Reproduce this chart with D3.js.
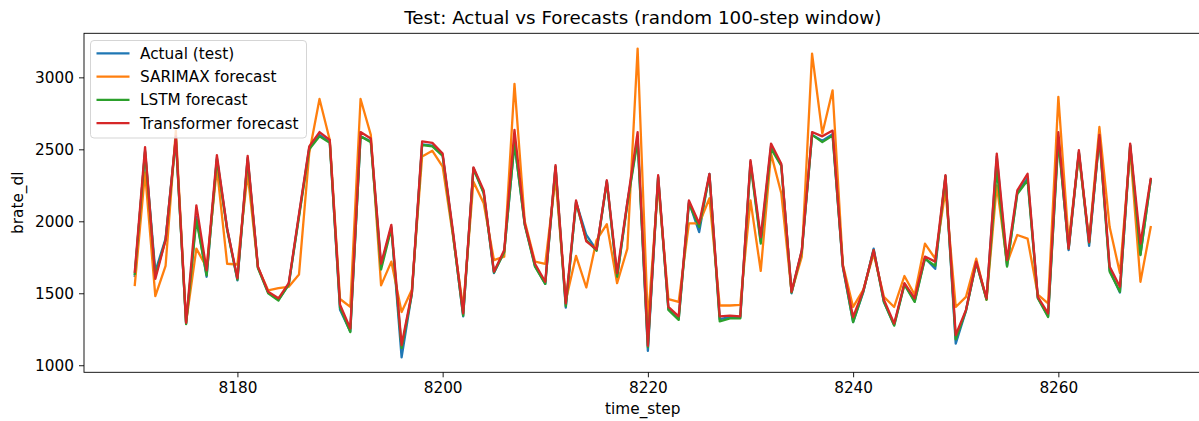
<!DOCTYPE html>
<html>
<head>
<meta charset="utf-8">
<script src="https://cdn.jsdelivr.net/npm/d3@7"></script>
<style>
  html, body { margin: 0; padding: 0; background: #fff; }
  svg { display: block; font-family: "DejaVu Sans", sans-serif; }
</style>
</head>
<body>
<div id="graph"></div>
<script>
// time steps of the test window
const timeSteps = d3.range(8170, 8270);

const actual = [1620, 2490, 1650, 1880, 2580, 1290, 2030, 1615, 2440, 1950,
  1590, 2440, 1680, 1505, 1455, 1560, 2040, 2510, 2600, 2550,
  1385, 1235, 2590, 2555, 1690, 1960, 1055, 1500, 2535, 2525,
  2460, 1920, 1340, 2370, 2200, 1640, 1790, 2540, 1980, 1690,
  1565, 2380, 1400, 2135, 1905, 1800, 2280, 1610, 2130, 2580,
  1100, 2310, 1390, 1320, 2135, 1925, 2330, 1320, 1335, 1330,
  2415, 1860, 2520, 2390, 1500, 1795, 2600, 2560, 2605, 1680,
  1300, 1510, 1810, 1440, 1280, 1565, 1445, 1745, 1670, 2315,
  1150, 1380, 1715, 1460, 2450, 1690, 2200, 2300, 1470, 1340,
  2580, 1800, 2480, 1830, 2590, 1660, 1505, 2530, 1770, 2285];

const sarimax = [1558, 2340, 1480, 1690, 2630, 1300, 1810, 1680, 2370, 1705,
  1700, 2330, 1680, 1520, 1535, 1545, 1630, 2475, 2850, 2565,
  1460, 1405, 2850, 2600, 1555, 1720, 1370, 1525, 2450, 2490,
  2380, 1900, 1400, 2275, 2125, 1730, 1755, 2955, 2000, 1720,
  1705, 2300, 1450, 1760, 1540, 1870, 1980, 1570, 1810, 3200,
  1300, 2260, 1460, 1440, 1985, 1985, 2160, 1415, 1415, 1420,
  2145, 1655, 2470, 2195, 1510, 1755, 3165, 2610, 2910, 1700,
  1405, 1525, 1775, 1475, 1405, 1620, 1490, 1845, 1740, 2215,
  1405, 1475, 1740, 1455, 2250, 1710, 1905, 1880, 1490, 1430,
  2865, 1860, 2460, 1870, 2655, 1960, 1640, 2500, 1580, 1960];

const lstm = [1635, 2480, 1620, 1870, 2570, 1285, 2010, 1625, 2430, 1940,
  1595, 2430, 1675, 1500, 1450, 1560, 2030, 2500, 2590, 2545,
  1400, 1230, 2590, 2550, 1665, 1950, 1120, 1495, 2530, 2520,
  2455, 1915, 1345, 2365, 2195, 1645, 1785, 2545, 1975, 1685,
  1565, 2375, 1410, 2130, 1870, 1795, 2275, 1615, 2120, 2560,
  1125, 2305, 1385, 1315, 2125, 1960, 2320, 1305, 1325, 1325,
  2400, 1845, 2505, 2385, 1505, 1790, 2600, 2550, 2595, 1690,
  1300, 1515, 1800, 1440, 1275, 1560, 1440, 1740, 1690, 2310,
  1180, 1380, 1710, 1455, 2360, 1685, 2190, 2285, 1465, 1335,
  2560, 1810, 2475, 1850, 2580, 1650, 1510, 2525, 1765, 2285];

const transformer = [1650, 2515, 1600, 1870, 2590, 1295, 2110, 1660, 2460, 1950,
  1605, 2455, 1685, 1510, 1465, 1570, 2050, 2520, 2620, 2565,
  1420, 1255, 2620, 2575, 1705, 1975, 1140, 1505, 2555, 2545,
  2470, 1935, 1360, 2375, 2215, 1650, 1800, 2635, 1985, 1705,
  1580, 2390, 1430, 2145, 1860, 1805, 2285, 1640, 2135, 2620,
  1135, 2320, 1405, 1340, 2145, 1985, 2330, 1340, 1345, 1340,
  2425, 1890, 2540, 2400, 1510, 1800, 2620, 2590, 2630, 1690,
  1335, 1520, 1800, 1455, 1290, 1570, 1465, 1755, 1720, 2320,
  1210, 1385, 1720, 1465, 2470, 1730, 2215, 2330, 1475, 1360,
  2620, 1810, 2495, 1855, 2600, 1685, 1545, 2540, 1845, 2295];

const seriesNames = ["Actual (test)", "SARIMAX forecast", "LSTM forecast", "Transformer forecast"];
const seriesColors = ["#1f77b4", "#ff7f0e", "#2ca02c", "#d62728"];
const xTicks = [8180, 8200, 8220, 8240, 8260];
const yTicks = [1000, 1500, 2000, 2500, 3000];

document.addEventListener("DOMContentLoaded", function() {

  const width = 1199;
  const height = 421;
  const fontSize = "15.3px";

  // axes box (the right spine sits just outside the picture)
  const left = 84, right = 1201.5, top = 33.3, bottom = 372.3;

  const svg = d3.select("div#graph")
    .append("svg")
    .attr("width", width)
    .attr("height", height);

  // matplotlib style 5% margins on x
  const x = d3.scaleLinear()
    .domain([8170 - 4.95, 8269 + 4.95])
    .range([left, right]);

  const y = d3.scaleLinear()
    .domain([951, 3306])
    .range([bottom, top]);

  svg.append("clipPath").attr("id", "plotclip")
    .append("rect")
    .attr("x", left).attr("y", top)
    .attr("width", right - left).attr("height", bottom - top);

  // lines, in the order they were plotted
  const allSeries = [actual, sarimax, lstm, transformer];
  const line = d3.line()
    .x((d, i) => x(timeSteps[i]))
    .y(d => y(d));

  const lines = svg.append("g").attr("clip-path", "url(#plotclip)");
  allSeries.forEach((values, k) => {
    lines.append("path")
      .datum(values)
      .attr("d", line)
      .attr("fill", "none")
      .attr("stroke", seriesColors[k])
      .attr("stroke-width", 2.3)
      .attr("stroke-linejoin", "round")
      .attr("stroke-linecap", "square");
  });

  // spines
  svg.append("rect")
    .attr("x", left).attr("y", top)
    .attr("width", right - left).attr("height", bottom - top)
    .attr("fill", "none")
    .attr("stroke", "#000")
    .attr("stroke-width", 0.9);

  // x axis
  const xAxis = svg.append("g")
    .attr("transform", `translate(0, ${bottom})`)
    .call(d3.axisBottom(x).tickValues(xTicks).tickSize(5).tickPadding(4.5).tickFormat(d3.format("d")));
  xAxis.select(".domain").remove();

  // y axis
  const yAxis = svg.append("g")
    .attr("transform", `translate(${left}, 0)`)
    .call(d3.axisLeft(y).tickValues(yTicks).tickSize(5).tickPadding(5).tickFormat(d3.format("d")));
  yAxis.select(".domain").remove();

  svg.selectAll(".tick line").attr("stroke", "#000").attr("stroke-width", 0.9);
  svg.selectAll(".tick text")
    .attr("fill", "#000")
    .style("font-size", fontSize)
    .style("font-family", "DejaVu Sans, sans-serif");

  // title and axis labels
  const midX = (left + right) / 2;
  svg.append("text")
    .attr("x", midX).attr("y", 24)
    .attr("text-anchor", "middle")
    .style("font-size", "18.3px")
    .text("Test: Actual vs Forecasts (random 100-step window)");

  svg.append("text")
    .attr("x", midX).attr("y", 414)
    .attr("text-anchor", "middle")
    .style("font-size", fontSize)
    .text("time_step");

  svg.append("text")
    .attr("transform", `translate(23, ${(top + bottom) / 2}) rotate(-90)`)
    .attr("text-anchor", "middle")
    .style("font-size", fontSize)
    .text("brate_dl");

  // legend
  const legend = svg.append("g").attr("transform", "translate(90.5, 40.5)");
  legend.append("rect")
    .attr("width", 216).attr("height", 97.5)
    .attr("rx", 3.5).attr("ry", 3.5)
    .attr("fill", "#fff").attr("fill-opacity", 0.8)
    .attr("stroke", "#d0d0d0").attr("stroke-width", 0.9);

  seriesNames.forEach((name, k) => {
    const ly = 12.8 + k * 23.3;
    legend.append("line")
      .attr("x1", 6).attr("x2", 39)
      .attr("y1", ly).attr("y2", ly)
      .attr("stroke", seriesColors[k])
      .attr("stroke-width", 2.3);
    legend.append("text")
      .attr("x", 49.5).attr("y", ly + 5.5)
      .style("font-size", fontSize)
      .text(name);
  });

});
</script>
</body>
</html>
